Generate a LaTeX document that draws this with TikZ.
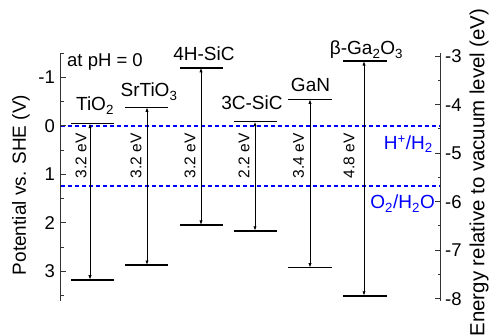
\documentclass[tikz,border=0pt]{standalone}
\usepackage{fontspec}
\setmainfont{Liberation Sans}
\usetikzlibrary{arrows.meta}
\definecolor{redoxblue}{RGB}{0,0,255}
\newcommand\Vy[1]{126+48.5*(#1)}
\begin{document}
\begin{tikzpicture}[x=1pt,y=-1pt,
  axisline/.style={draw=black!80,line width=1.1pt},
  tickline/.style={draw=black!80,line width=1pt},
  bandline/.style={line width=1.6pt},
  gaparrow/.style={{Latex[length=4.5pt,width=3.2pt]}-{Latex[length=4.5pt,width=3.2pt]},line width=0.8pt},
  redox/.style={draw=redoxblue,dash pattern=on 4.5pt off 2.5pt,line width=1.5pt},
  ticklab/.style={inner sep=0pt,font=\fontsize{18.5}{22}\selectfont},
  matlab/.style={inner sep=0pt,anchor=base,font=\fontsize{19}{22}\selectfont},
  evlab/.style={inner sep=0pt,rotate=90,font=\fontsize{15.5}{18}\selectfont},
  redoxlab/.style={inner sep=0pt,anchor=base east,text=redoxblue,font=\fontsize{19}{22}\selectfont},
  axlab/.style={inner sep=0pt,rotate=90,font=\fontsize{19}{22}\selectfont}]
\useasboundingbox (0,0) rectangle (489,336);
% redox levels (drawn first, under everything)
\coordinate (h1) at (60.5,126);
\coordinate (h2) at (440.5,126);
\coordinate (o1) at (60.5,186);
\coordinate (o2) at (440.5,186);
\draw[redox] (o1) -- (o2);
\draw[redox] (h1) -- (h2);
\node[redoxlab] (hlab) at (433,149.5) {H\textsuperscript{+}/H\textsubscript{2}};
\node[redoxlab] (olab) at (435,209) {O\textsubscript{2}/H\textsubscript{2}O};
% axes
\coordinate (lt) at (60.5,{\Vy{-1.5}});
\coordinate (lb) at (60.5,{\Vy{3.6}});
\coordinate (rt) at (440.5,{\Vy{-1.5}});
\coordinate (rb) at (440.5,{\Vy{3.6}});
\draw[axisline] (lt) -- (lb);
\draw[axisline] (rt) -- (rb);
\foreach \v in {-1,0,1,2,3}{
  \draw[tickline] (60.5,{\Vy{\v}}) -- (66,{\Vy{\v}});
  \node[ticklab,anchor=east] (lv\v) at (55,{\Vy{\v}}) {\v};
}
\foreach \v in {-1.5,-0.5,0.5,1.5,2.5,3.5}{
  \draw[tickline] (60.5,{\Vy{\v}}) -- (63.5,{\Vy{\v}});
}
\foreach \e in {-3,-4,-5,-6,-7,-8}{
  \draw[tickline] (440.5,{\Vy{-\e-4.44}}) -- (435,{\Vy{-\e-4.44}});
  \node[ticklab,anchor=west] (re\e) at (445,{\Vy{-\e-4.44}}) {\e};
}
\foreach \e in {-3.5,-4.5,-5.5,-6.5,-7.5}{
  \draw[tickline] (440.5,{\Vy{-\e-4.44}}) -- (437.5,{\Vy{-\e-4.44}});
}
% bands
\foreach \n/\xl/\xr/\xa/\cb/\vb/\xt/\gap in {
  tio/71/114/90/-0.05/3.17/81/3.2,
  sto/125/168/147/-0.385/2.866/136/3.2,
  hsic/180/223/201/-1.2/2.04/190/3.2,
  csic/234/277/255/-0.09/2.16/244/2.2,
  gan/288/332/310/-0.55/2.92/298.5/3.4,
  gao/343/387/364/-1.34/3.5/349/4.8}{
  \draw[bandline] (\xl,{\Vy{\cb}}) -- (\xr,{\Vy{\cb}});
  \draw[bandline] (\xl,{\Vy{\vb}}) -- (\xr,{\Vy{\vb}});
  \coordinate (\n cb) at (\xa,{\Vy{\cb}});
  \coordinate (\n vb) at (\xa,{\Vy{\vb}});
  \draw[gaparrow] (\n cb) -- (\n vb);
  \node[evlab] (\n ev) at (\xt,156) {\gap\ eV};
}
% labels
\node[inner sep=0pt,anchor=base west,font=\fontsize{18.5}{22}\selectfont] (ph) at (67,66.5) {at pH = 0};
\node[matlab] (ltio) at (95,110.8) {TiO\textsubscript{2}};
\node[matlab] (lsto) at (149,97) {SrTiO\textsubscript{3}};
\node[matlab] (lhsic) at (204,60.3) {4H-SiC};
\node[matlab] (lcsic) at (252,110) {3C-SiC};
\node[matlab] (lgan) at (310.5,92) {GaN};
\node[matlab] (lgao) at (366.5,55) {β-Ga\textsubscript{2}O\textsubscript{3}};
\node[axlab] (ylab) at (21,185) {Potential vs. SHE (V)};
\node[axlab,font=\fontsize{20.4}{24}\selectfont] (y2lab) at (479,172.5) {Energy relative to vacuum level (eV)};
\end{tikzpicture}
\end{document}
